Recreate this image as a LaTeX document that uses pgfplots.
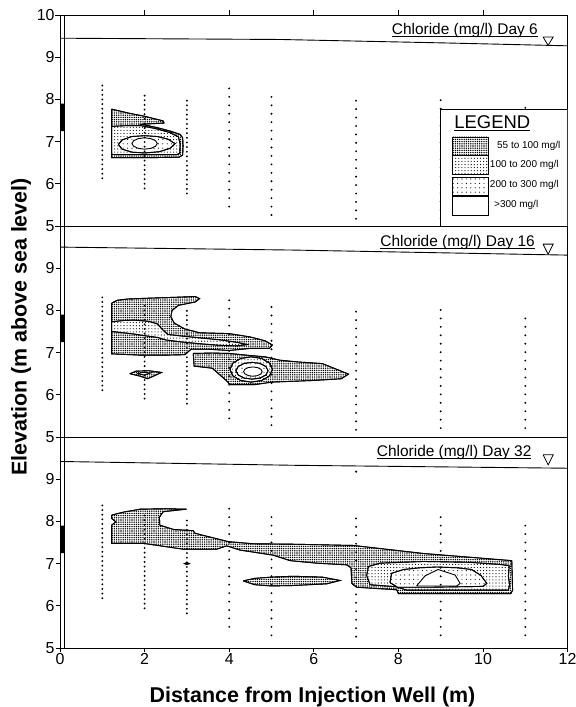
\documentclass[border=0pt]{standalone}
\usepackage{pgfplots}
\pgfplotsset{compat=1.18}
\usepackage{fontspec}
\setmainfont{Liberation Sans}
\usetikzlibrary{patterns.meta}
\newcommand\ul[1]{\setbox0\hbox{#1}\rlap{\rule[-1.7bp]{\wd0}{0.6bp}}\box0}
\pgfplotsset{
  panel/.style={
    scale only axis, width=507.6bp, height=211bp,
    xmin=0, xmax=12, ymin=5, ymax=10,
    anchor=south west,
    axis line style={line width=0.9bp},
    tick align=outside, major tick length=4.5bp,
    tick style={black, line width=0.7bp},
    ytick pos=left,
    ticklabel style={font=\fontsize{16}{16}\selectfont},
    yticklabel style={inner sep=0.8bp},
    xticklabel style={inner sep=0.5bp},
    /pgf/number format/assume math mode=true,
  },
  c55/.style={draw=black, line width=0.9bp, preaction={fill=white}, pattern={Dots[distance=2.2bp, radius=0.78bp]}, pattern color=black},
  c100/.style={draw=black, line width=0.9bp, preaction={fill=white}, pattern={Dots[distance=3.1bp, radius=0.58bp]}, pattern color=black},
  c200/.style={draw=black, line width=0.9bp, preaction={fill=white}, pattern={Dots[distance=4.4bp, radius=0.58bp]}, pattern color=black},
  c300/.style={draw=black, line width=0.9bp, fill=white},
  sa/.style={black, line width=2.1bp, line cap=round, dash pattern=on 0bp off 4.64bp},
  sb/.style={black, line width=2.1bp, line cap=round, dash pattern=on 0bp off 8.44bp},
  wt/.style={black, line width=0.9bp},
  tri/.style={draw=black, fill=white, line width=0.8bp},
  well/.style={fill=black, draw=none},
  casing/.style={black, line width=0.6bp},
}
\begin{document}
\begin{tikzpicture}
\path[use as bounding box] (0,0) rectangle (576bp,707bp);
% ---------------- Day 6 ----------------
\begin{axis}[panel, at={(60bp,481bp)}, xtick={2,4,...,10}, xtick pos=right, xticklabels={}, ytick={5,...,10}]
\addplot[c55] coordinates {(1.22,7.77) (1.6,7.68) (2.0,7.6) (2.44,7.49) (2.46,7.44) (1.93,7.41) (2.3,7.33) (2.60,7.25) (2.84,7.17) (2.90,7.09) (2.91,6.9) (2.90,6.68) (2.82,6.63) (2.2,6.62) (1.22,6.62) (1.22,7.77)};
\addplot[c100] coordinates {(1.22,7.36) (1.6,7.38) (1.9,7.38) (2.25,7.31) (2.58,7.22) (2.80,7.11) (2.84,6.95) (2.83,6.72) (2.75,6.69) (1.3,6.69) (1.22,6.70) (1.22,7.36)};
\addplot[c200] coordinates {(1.38,6.93) (1.47,7.04) (1.7,7.12) (2.0,7.14) (2.3,7.12) (2.55,7.06) (2.72,6.95) (2.6,6.84) (2.35,6.76) (2.0,6.73) (1.7,6.75) (1.47,6.82) (1.38,6.93)};
\addplot[c300] coordinates {(1.70,6.955) (1.74,7.02) (1.85,7.07) (2.0,7.09) (2.15,7.07) (2.26,7.02) (2.30,6.955) (2.26,6.89) (2.15,6.84) (2.0,6.82) (1.85,6.84) (1.74,6.89) (1.70,6.955)};
\addplot[sa] coordinates {(1,6.13) (1,8.33)};
\addplot[sa] coordinates {(2,5.89) (2,8.09)};
\addplot[sa] coordinates {(3,5.77) (3,7.97)};
\addplot[sb] coordinates {(4,5.46) (4,8.46)};
\addplot[sb] coordinates {(5,5.26) (5,8.26)};
\addplot[sb] coordinates {(7,5.17) (7,8.17)};
\addplot[sb] coordinates {(9,5.18) (9,8.18)};
\addplot[sb] coordinates {(11,5.2) (11,8.0)};
\addplot[wt] coordinates {(0,9.45) (5.2,9.42) (9,9.34) (12,9.27)};
\addplot[tri] coordinates {(11.42,9.48) (11.66,9.48) (11.54,9.28) (11.42,9.48)};
\addplot[casing] coordinates {(0.11,5) (0.11,10)};
\addplot[well] coordinates {(0,7.25) (0.11,7.25) (0.11,7.9) (0,7.9) (0,7.25)};
% legend box
\addplot[draw=black, fill=white, line width=0.9bp] coordinates {(9,5) (12,5) (12,7.77) (9,7.77) (9,5)};
\addplot[c55] coordinates {(9.27,6.68) (10.12,6.68) (10.12,7.11) (9.27,7.11) (9.27,6.68)};
\addplot[c100] coordinates {(9.27,6.21) (10.12,6.21) (10.12,6.66) (9.27,6.66) (9.27,6.21)};
\addplot[c200] coordinates {(9.27,5.73) (10.12,5.73) (10.12,6.16) (9.27,6.16) (9.27,5.73)};
\addplot[c300] coordinates {(9.27,5.26) (10.12,5.26) (10.12,5.69) (9.27,5.69) (9.27,5.26)};
\node[anchor=base, inner sep=0pt, font=\fontsize{18.5}{19}\selectfont] at (axis cs:10.22,7.31) {\ul{LEGEND}};
\node[anchor=mid west, inner sep=0pt, font=\fontsize{10}{10}\selectfont] at (axis cs:10.33,6.90) {55 to 100 mg/l};
\node[anchor=mid west, inner sep=0pt, font=\fontsize{10}{10}\selectfont] at (axis cs:10.16,6.45) {100 to 200 mg/l};
\node[anchor=mid west, inner sep=0pt, font=\fontsize{10}{10}\selectfont] at (axis cs:10.16,5.97) {200 to 300 mg/l};
\node[anchor=mid west, inner sep=0pt, font=\fontsize{10}{10}\selectfont] at (axis cs:10.26,5.50) {>300 mg/l};
\node[anchor=base east, inner sep=0pt, font=\fontsize{15.5}{16}\selectfont] at (axis cs:11.3,9.53) {\ul{Chloride (mg/l) Day 6}};
\end{axis}
% ---------------- Day 16 ----------------
\begin{axis}[panel, at={(60bp,270bp)}, xtick=\empty, ytick={5,...,9}]
\addplot[c55] coordinates {(1.22,8.17) (1.35,8.24) (1.6,8.27) (2.1,8.29) (2.7,8.31) (3.2,8.33) (3.3,8.28) (3.2,8.2) (2.8,8.12) (2.65,8.0) (2.62,7.85) (2.7,7.7) (2.95,7.56) (3.3,7.47) (4.0,7.45) (4.5,7.37) (4.85,7.28) (5.02,7.18) (4.95,7.10) (4.5,7.10) (4.0,7.05) (3.5,7.08) (3.1,7.08) (2.95,6.95) (2.5,6.94) (1.9,6.94) (1.22,6.97) (1.22,8.17)};
\addplot[c100] coordinates {(1.22,7.73) (1.5,7.76) (1.75,7.77) (2.1,7.74) (2.3,7.68) (2.42,7.55) (2.55,7.43) (2.9,7.39) (3.4,7.34) (3.8,7.30) (4.2,7.24) (4.42,7.19) (4.2,7.16) (3.8,7.17) (3.3,7.21) (2.8,7.26) (2.5,7.30) (2.3,7.36) (2.0,7.40) (1.75,7.44) (1.5,7.47) (1.22,7.50) (1.22,7.73)};
\addplot[c55] coordinates {(3.15,6.98) (3.6,6.99) (4.0,6.98) (4.5,6.93) (4.85,6.90) (5.2,6.82) (5.6,6.78) (6.2,6.74) (6.55,6.60) (6.82,6.49) (6.65,6.38) (6.0,6.34) (5.5,6.32) (5.0,6.30) (4.6,6.24) (4.02,6.24) (3.94,6.33) (3.6,6.63) (3.17,6.68) (3.15,6.98)};
\addplot[c100] coordinates {(5.02,6.6) (4.953,6.75) (4.77,6.86) (4.52,6.9) (4.27,6.86) (4.087,6.75) (4.02,6.6) (4.087,6.45) (4.27,6.34) (4.52,6.3) (4.77,6.34) (4.953,6.45) (5.02,6.6)};
\addplot[c200] coordinates {(4.92,6.57) (4.869,6.67) (4.73,6.743) (4.54,6.77) (4.35,6.743) (4.211,6.67) (4.16,6.57) (4.211,6.47) (4.35,6.397) (4.54,6.37) (4.73,6.397) (4.869,6.47) (4.92,6.57)};
\addplot[c300] coordinates {(4.78,6.55) (4.75,6.605) (4.67,6.645) (4.56,6.66) (4.45,6.645) (4.37,6.605) (4.34,6.55) (4.37,6.495) (4.45,6.455) (4.56,6.44) (4.67,6.455) (4.75,6.495) (4.78,6.55)};
\addplot[c55] coordinates {(1.65,6.50) (1.8,6.56) (2.1,6.57) (2.4,6.53) (2.25,6.46) (2.07,6.38) (1.9,6.44) (1.65,6.50)};
\addplot[c300] coordinates {(1.82,6.50) (1.95,6.53) (2.15,6.52) (2.0,6.47) (1.82,6.50)};
\addplot[sa] coordinates {(1,6.11) (1,8.31)};
\addplot[sa] coordinates {(2,5.91) (2,8.11)};
\addplot[sa] coordinates {(3,5.79) (3,7.99)};
\addplot[sb] coordinates {(4,5.44) (4,8.44)};
\addplot[sb] coordinates {(5,5.28) (5,8.28)};
\addplot[sb] coordinates {(7,5.17) (7,8.17)};
\addplot[sb] coordinates {(9,5.21) (9,8.21)};
\addplot[sb] coordinates {(11,5.21) (11,8.01)};
\addplot[wt] coordinates {(0,9.50) (5.5,9.43) (12,9.31)};
\addplot[tri] coordinates {(11.42,9.57) (11.66,9.57) (11.54,9.33) (11.42,9.57)};
\addplot[casing] coordinates {(0.11,5) (0.11,10)};
\addplot[well] coordinates {(0,7.25) (0.11,7.25) (0.11,7.9) (0,7.9) (0,7.25)};
\node[anchor=base east, inner sep=0pt, font=\fontsize{15.5}{16}\selectfont] at (axis cs:11.23,9.51) {\ul{Chloride (mg/l) Day 16}};
\end{axis}
% ---------------- Day 32 ----------------
\begin{axis}[panel, at={(60bp,59bp)}, xtick={0,2,...,12}, xtick pos=left, ytick={5,...,9}]
\addplot[c55] coordinates {(1.22,8.15) (1.5,8.22) (1.9,8.29) (2.5,8.30) (2.99,8.29) (2.44,8.23) (2.35,8.10) (2.36,7.91) (2.68,7.81) (3.15,7.78) (3.19,7.72) (3.46,7.65) (3.98,7.52) (4.57,7.47) (5.5,7.46) (6.93,7.43) (8.59,7.24) (10.68,7.07) (10.70,6.37) (10.66,6.29) (8.00,6.29) (7.96,6.38) (7.01,6.44) (6.90,6.53) (6.88,6.9) (6.78,6.97) (6.07,7.01) (5.44,7.07) (5.04,7.20) (4.26,7.32) (3.94,7.42) (3.70,7.34) (2.92,7.34) (1.97,7.48) (1.22,7.48) (1.22,7.91) (1.32,7.99) (1.22,8.07) (1.22,8.15)};
\addplot[c100] coordinates {(7.25,6.72) (7.29,6.93) (7.57,7.01) (8.59,7.05) (9.69,7.03) (10.4,6.98) (10.62,6.95) (10.6,6.70) (10.63,6.5) (10.6,6.37) (8.2,6.37) (7.96,6.45) (7.33,6.50) (7.25,6.72)};
\addplot[c200] coordinates {(7.80,6.55) (7.84,6.77) (8.12,6.86) (8.5,6.90) (8.91,6.92) (9.4,6.90) (9.73,6.86) (9.95,6.72) (10.09,6.53) (10.0,6.46) (8.8,6.44) (7.98,6.44) (7.80,6.55)};
\addplot[c300] coordinates {(8.43,6.47) (8.63,6.71) (8.94,6.86) (9.34,6.73) (9.46,6.53) (9.38,6.47) (8.43,6.47)};
\addplot[c55] coordinates {(4.33,6.59) (4.6,6.65) (5.0,6.68) (5.5,6.70) (6.2,6.68) (6.62,6.60) (6.3,6.52) (5.5,6.48) (5.0,6.47) (4.6,6.50) (4.33,6.59)};
\addplot[fill=black, draw=black] coordinates {(2.92,7.0) (3.0,7.03) (3.08,7.0) (3.0,6.97) (2.92,7.0)};
\addplot[sa] coordinates {(1,6.18) (1,8.38)};
\addplot[sa] coordinates {(2,5.94) (2,8.14)};
\addplot[sa] coordinates {(3,5.82) (3,8.02)};
\addplot[sb] coordinates {(4,5.5) (4,8.5)};
\addplot[sb] coordinates {(5,5.3) (5,8.3)};
\addplot[sb] coordinates {(7,5.27) (7,8.27)};
\addplot[sb] coordinates {(9,5.3) (9,8.3)};
\addplot[sb] coordinates {(11,5.3) (11,8.1)};
\addplot[only marks, mark=*, mark size=0.9bp, black] coordinates {(7,9.18)};
\addplot[wt] coordinates {(0,9.42) (5.5,9.33) (12,9.26)};
\addplot[tri] coordinates {(11.42,9.58) (11.66,9.58) (11.54,9.34) (11.42,9.58)};
\addplot[casing] coordinates {(0.11,5) (0.11,10)};
\addplot[well] coordinates {(0,7.25) (0.11,7.25) (0.11,7.9) (0,7.9) (0,7.25)};
\node[anchor=base east, inner sep=0pt, font=\fontsize{15.5}{16}\selectfont] at (axis cs:11.15,9.53) {\ul{Chloride (mg/l) Day 32}};
\end{axis}
\node[rotate=90, font=\bfseries\fontsize{21.5}{22}\selectfont] at (21bp,380bp) {Elevation (m above sea level)};
\node[anchor=base, font=\bfseries\fontsize{21.5}{22}\selectfont] at (312.5bp,5bp) {Distance from Injection Well (m)};
\end{tikzpicture}
\end{document}
